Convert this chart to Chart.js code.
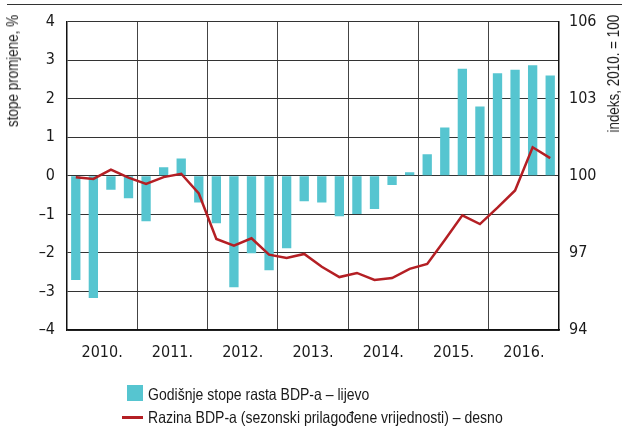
<!DOCTYPE html>
<html>
<head>
<meta charset="utf-8">
<script src="https://cdn.jsdelivr.net/npm/chart.js@4/dist/chart.umd.min.js"></script>
<style>
  html,body{margin:0;padding:0;background:#fff;}
  body{width:622px;height:428px;position:relative;overflow:hidden;font-family:"Liberation Sans",Arial,sans-serif;color:#1a1a1a;}
  #wrap{position:absolute;left:0;top:0;width:622px;height:428px;}
  .vt{position:absolute;writing-mode:vertical-rl;transform:rotate(180deg);font-size:16px;white-space:nowrap;line-height:16px;}
  .vt span{display:inline-block;transform-origin:50% 100%;transform:scaleY(0.84);}
  #topline{position:absolute;left:7px;top:4px;width:615px;height:0;border-top:1.5px solid #333;}
  .leg{position:absolute;font-size:16.5px;white-space:nowrap;line-height:18px;transform-origin:0 50%;transform:scaleX(0.85);}
  .sw{position:absolute;}
</style>
</head>
<body>
<div id="topline"></div>
<div id="wrap"><canvas id="c" width="622" height="428"></canvas></div>
<div class="vt" style="left:5px;top:15px;"><span>stope promjene, %</span></div>
<div class="vt" style="left:606px;top:15px;"><span>indeks, 2010. = 100</span></div>
<div class="sw" style="left:127px;top:385px;width:16px;height:16px;background:#56c5d0;"></div>
<div class="leg" style="left:148px;top:385px;">Godišnje stope rasta BDP-a – lijevo</div>
<div class="sw" style="left:122px;top:416px;width:21px;height:2.5px;background:#b41f24;"></div>
<div class="leg" style="left:148px;top:408px;">Razina BDP-a (sezonski prilagođene vrijednosti) – desno</div>
<script>
const years = ['2010', '2011', '2012', '2013', '2014', '2015', '2016'];
const quarters = ['Q1', 'Q2', 'Q3', 'Q4'];
const growth = [-2.70, -3.17, -0.36, -0.58, -1.18, 0.22, 0.45, -0.69, -1.23, -2.89, -2.01, -2.45, -1.88, -0.66, -0.69, -1.05, -0.99, -0.86, -0.24, 0.09, 0.56, 1.25, 2.78, 1.80, 2.66, 2.75, 2.87, 2.60];
const level = [99.94, 99.88, 100.24, 99.93, 99.68, 99.95, 100.08, 99.31, 97.54, 97.28, 97.57, 96.93, 96.80, 96.96, 96.46, 96.06, 96.22, 95.95, 96.02, 96.38, 96.57, 97.50, 98.46, 98.12, 98.76, 99.43, 101.11, 100.69];
const leftTicks = [-4, -3, -2, -1, 0, 1, 2, 3, 4];
const rightTicks = [94, 97, 100, 103, 106];

const labels = [];
years.forEach(y => quarters.forEach(q => labels.push(y + ' ' + q)));

const FONT = '"DejaVu Sans Condensed","Liberation Sans",sans-serif';
const fmt = v => (v < 0 ? '\u2013' + Math.abs(v) : String(v));

new Chart(document.getElementById('c'), {
  data: {
    labels: labels,
    datasets: [
      {
        type: 'line', data: level, yAxisID: 'y1', borderColor: '#b41f24', borderWidth: 2.5,
        pointRadius: 0, tension: 0, fill: false, order: 0
      },
      {
        type: 'bar', data: growth, yAxisID: 'y', backgroundColor: '#56c5d0',
        barPercentage: 0.53, categoryPercentage: 1, order: 1
      }
    ]
  },
  options: {
    responsive: false, animation: false,
    layout: { padding: { left: 0, right: 0, top: 19, bottom: 58 } },
    plugins: { legend: { display: false }, tooltip: { enabled: false } },
    scales: {
      x: {
        offset: true,
        grid: {
          offset: true, drawTicks: false,
          color: ctx => (ctx.index % 4 === 0 ? '#444' : 'rgba(0,0,0,0)'), lineWidth: 1
        },
        border: { color: '#111', width: 1.5 },
        ticks: {
          autoSkip: false, maxRotation: 0, minRotation: 0, padding: 13,
          color: '#1a1a1a', font: { family: FONT, size: 16 },
          labelOffset: 8.8,
          callback: (v, i) => (i % 4 === 1 ? years[Math.floor(i / 4)] + '.' : '')
        },
        afterFit: s => { s.height = 40; }
      },
      y: {
        position: 'left', min: -4, max: 4,
        afterBuildTicks: s => { s.ticks = leftTicks.map(v => ({ value: v })); },
        grid: { color: '#333', lineWidth: 1, drawTicks: false },
        border: { color: '#111', width: 1.5 },
        ticks: { padding: 12, color: '#1a1a1a', font: { family: FONT, size: 16 }, callback: v => fmt(v) },
        afterFit: s => { s.width = 67; }
      },
      y1: {
        position: 'right', min: 94, max: 106,
        afterBuildTicks: s => { s.ticks = rightTicks.map(v => ({ value: v })); },
        grid: { display: false, drawTicks: false },
        border: { color: '#111', width: 1.5 },
        ticks: { padding: 10, color: '#1a1a1a', font: { family: FONT, size: 16 } },
        afterFit: s => { s.width = 63; }
      }
    }
  }
});
</script>
</body>
</html>
